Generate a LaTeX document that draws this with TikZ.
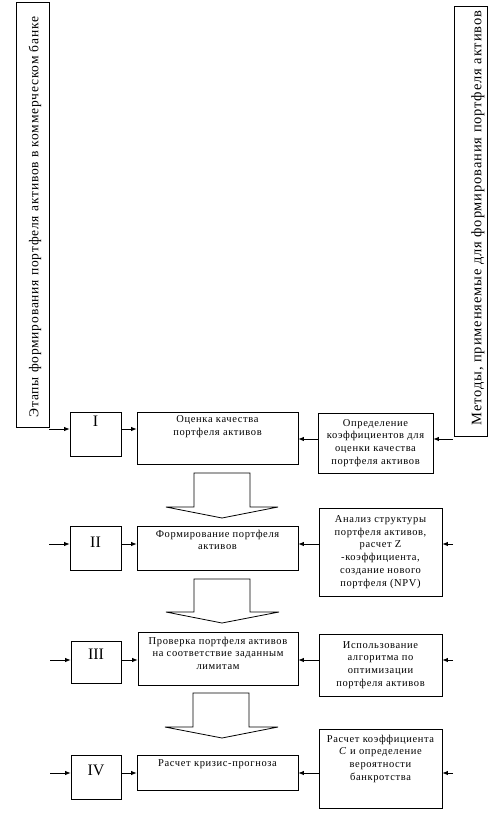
\documentclass[tikz,border=0pt]{standalone}
\usepackage{fontspec}
\setmainfont{Liberation Serif}
\newfontfamily\widefont[LetterSpace=6]{Liberation Serif}
\usetikzlibrary{arrows.meta}
\usetikzlibrary{positioning}

\begin{document}
\begin{tikzpicture}[x=1pt,y=-1pt]
\tikzset{>={Latex[width=4.5pt,length=5.5pt]}}
\tikzstyle{box} =[draw, line width=0.8pt, inner sep=0pt]
\tikzstyle{numeral} =[font=\fontsize{16}{16}\selectfont, inner sep=0pt]
\tikzstyle{boxtext} =[font=\widefont\fontsize{10.5}{12.8}\selectfont, align=center, inner sep=0pt]
\tikzstyle{headtext} =[font=\widefont\fontsize{13.5}{13.5}\selectfont, inner sep=0pt, rotate=90]
\tikzstyle{link} =[->, line width=0.8pt]
\tikzstyle{bigarrow} =[draw, line width=0.8pt]
\useasboundingbox (0,0) rectangle (499,834);

% headers
\node[box, minimum width=33, minimum height=425](lb) at (32.5,214.5){};
\node[headtext] at (35,217){Этапы формирования портфеля активов в коммерческом банке};
\node[box, minimum width=33, minimum height=430](rb) at (470.5,221){};
\node[headtext, font=\widefont\fontsize{14.5}{14.5}\selectfont] at (478,218){Методы, применяемые для формирования портфеля активов};

% stage I
\node[box, minimum width=51, minimum height=44](s1) at (95.5,434){};
\node[numeral, below=4pt of s1.north]{I};
\node[box, minimum width=161, minimum height=52](m1) at (217.5,438){};
\node[boxtext, below=4pt of m1.north]{Оценка качества\\портфеля активов};
\node[box, boxtext, minimum width=115, minimum height=60](r1) at (375.5,443){Определение\\коэффициентов для\\оценки качества\\портфеля активов};

% stage II
\node[box, minimum width=51, minimum height=44](s2) at (95.5,548){};
\node[numeral, below=11pt of s2.north]{II};
\node[box, minimum width=161, minimum height=44](m2) at (217.5,548){};
\node[boxtext, below=4pt of m2.north]{Формирование портфеля\\активов};
\node[box, boxtext, minimum width=123, minimum height=88](r2) at (380.5,552){Анализ структуры\\портфеля активов,\\расчет Z\\-коэффициента,\\создание нового\\портфеля (NPV)};

% stage III
\node[box, minimum width=50, minimum height=42](s3) at (96,662.5){};
\node[numeral, below=8pt of s3.north]{III};
\node[box, minimum width=160, minimum height=53](m3) at (218,658.5){};
\node[boxtext, below=5pt of m3.north]{Проверка портфеля активов\\на соответствие заданным\\лимитам};
\node[box, boxtext, minimum width=123, minimum height=62](r3) at (380.5,665){Использование\\алгоритма по\\оптимизации\\портфеля активов};

% stage IV
\node[box, minimum width=50, minimum height=44](s4) at (96,777){};
\node[numeral, below=10pt of s4.north]{IV};
\node[box, minimum width=161, minimum height=35](m4) at (217.5,772.5){};
\node[boxtext, below=5pt of m4.north]{Расчет кризис-прогноза};
\node[box, minimum width=123, minimum height=79](r4) at (380.5,768.5){};
\node[boxtext, below=6pt of r4.north]{Расчет коэффициента\\\textit{C} и определение\\вероятности\\банкротства};

% free ends
\coordinate (inL1) at (49,429);
\coordinate (inL2) at (49,544);
\coordinate (inL3) at (50,660);
\coordinate (inL4) at (50,773);
\coordinate (inR1) at (453,439);
\coordinate (inR2) at (453,544);
\coordinate (inR3) at (453,660);
\coordinate (inR4) at (453,773);

\draw [link] (inL1) to (s1.west |- inL1);
\draw [link] (s1.east |- inL1) to (m1.west |- inL1);
\draw [link] (inR1) to (r1.east |- inR1);
\draw [link] (r1.west |- inR1) to (m1.east |- inR1);

\draw [link] (inL2) to (s2.west |- inL2);
\draw [link] (s2.east |- inL2) to (m2.west |- inL2);
\draw [link] (inR2) to (r2.east |- inR2);
\draw [link] (r2.west |- inR2) to (m2.east |- inR2);

\draw [link] (inL3) to (s3.west |- inL3);
\draw [link] (s3.east |- inL3) to (m3.west |- inL3);
\draw [link] (inR3) to (r3.east |- inR3);
\draw [link] (r3.west |- inR3) to (m3.east |- inR3);

\draw [link] (inL4) to (s4.west |- inL4);
\draw [link] (s4.east |- inL4) to (m4.west |- inL4);
\draw [link] (inR4) to (r4.east |- inR4);
\draw [link] (r4.west |- inR4) to (m4.east |- inR4);

% block arrows between stages
\draw[bigarrow] (194,473) -- (250,473) -- (250,507) -- (278,507) -- (222,518) -- (166,507) -- (194,507) -- cycle;
\draw[bigarrow] (194,579) -- (250,579) -- (250,612) -- (279,612) -- (222,623) -- (166,612) -- (194,612) -- cycle;
\draw[bigarrow] (193,693) -- (249,693) -- (249,727) -- (278,727) -- (222,738) -- (165,727) -- (193,727) -- cycle;
\end{tikzpicture}
\end{document}
